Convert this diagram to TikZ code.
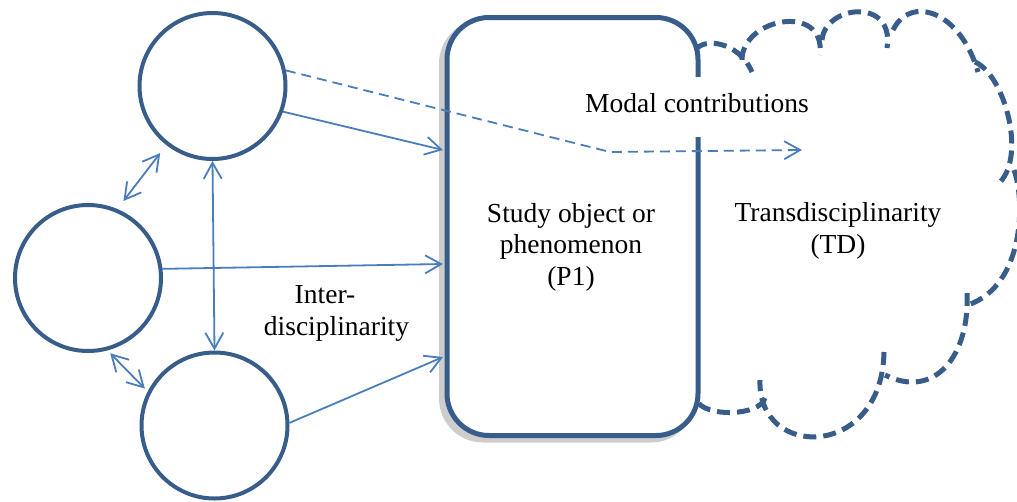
\documentclass[tikz,border=0pt]{standalone}
\usepackage{fontspec}
\setmainfont{Liberation Serif}
\usetikzlibrary{arrows.meta}
\definecolor{dblue}{RGB}{56,93,138}
\definecolor{lblue}{RGB}{74,126,187}
\definecolor{shadowgray}{RGB}{205,205,205}
\tikzset{
  openbarb/.tip={Straight Barb[length=16pt,width=18pt]},
  disc/.style={circle,draw=dblue,line width=4pt,minimum size=146pt,inner sep=0pt,fill=white},
  link/.style={draw=lblue,line width=1.8pt,-openbarb},
  link2/.style={draw=lblue,line width=1.8pt,openbarb-openbarb},
  dlink/.style={link,dash pattern=on 10pt off 6pt},
  cloudarc/.style={draw=dblue,line width=5pt,dash pattern=on 13pt off 7pt},
  lbl/.style={font=\fontsize{27.5}{31.5}\selectfont,align=center,inner sep=0pt},
  mainbox/.style={draw=dblue,line width=5pt,fill=white,rounded corners=42pt,
    minimum width=251pt,minimum height=418pt,inner sep=0pt},
  boxshade/.style={fill=shadowgray,rounded corners=44pt,
    minimum width=256pt,minimum height=423pt,inner sep=0pt},
}
\begin{document}
\begin{tikzpicture}[x=1pt,y=-1pt]
\useasboundingbox (0,0) rectangle (1017,501);
% cloud (transdisciplinarity)
\draw[cloudarc] (696,50) .. controls (702,38) and (738,40) .. (752,72);
\draw[cloudarc] (742,60) .. controls (742,18) and (826,2) .. (820,55);
\draw[cloudarc] (822,40) .. controls (825,5) and (895,-3) .. (887,48);
\draw[cloudarc] (893,30) .. controls (910,-5) and (960,10) .. (978,72);
\draw[cloudarc] (975,62) .. controls (1005,75) and (1028,160) .. (997,185);
\draw[cloudarc] (1014,170) .. controls (1025,200) and (1025,285) .. (968,305);
\draw[cloudarc] (967,293) .. controls (970,355) and (935,400) .. (885,375);
\draw[cloudarc] (884,352) .. controls (882,460) and (757,460) .. (760,380);
\draw[cloudarc] (765,398) .. controls (760,416) and (705,418) .. (696,400);
% study object box
\node[boxshade] (boxshadow) at (567,231) {};
\node[mainbox] (box) at (572.5,226.5) {};
% disciplines
\node[disc] (top) at (212.5,86) {};
\node[disc] (left) at (88,278) {};
\node[disc] (bot) at (214.5,425.5) {};
% texts
\node[lbl,fill=white,inner xsep=6pt,minimum height=60pt,text height=19pt,text depth=9pt,anchor=base] (modal) at (697,112) {Modal contributions};
\node[lbl] (study) at (571,247) {Study object or\\phenomenon\\(P1)};
\node[lbl] (td) at (838,231) {Transdisciplinarity\\(TD)};
\node[lbl] (inter) at (336.5,313.5) {Inter-\hspace*{23pt}\\disciplinarity};
% arrow ends
\coordinate (tA) at (443,150);
\coordinate (tB) at (443,264);
\coordinate (tC) at (443,357);
\coordinate (bend) at (610,152);
\coordinate (tD) at (802,150);
% connectors
\draw[link] (top.-20) -- (tA);
\draw[link] (left.7) -- (tB);
\draw[link] (bot.2) -- (tC);
\draw[dlink] (top.12) -- (bend) -- (tD);
\draw[link2] (top.south) -- (bot.north);
\draw[link2,shorten <=10pt,shorten >=10pt] (left.67) -- (top.-128);
\draw[link2,shorten <=4pt,shorten >=4pt] (left.-75) -- (bot.153);
\end{tikzpicture}
\end{document}
